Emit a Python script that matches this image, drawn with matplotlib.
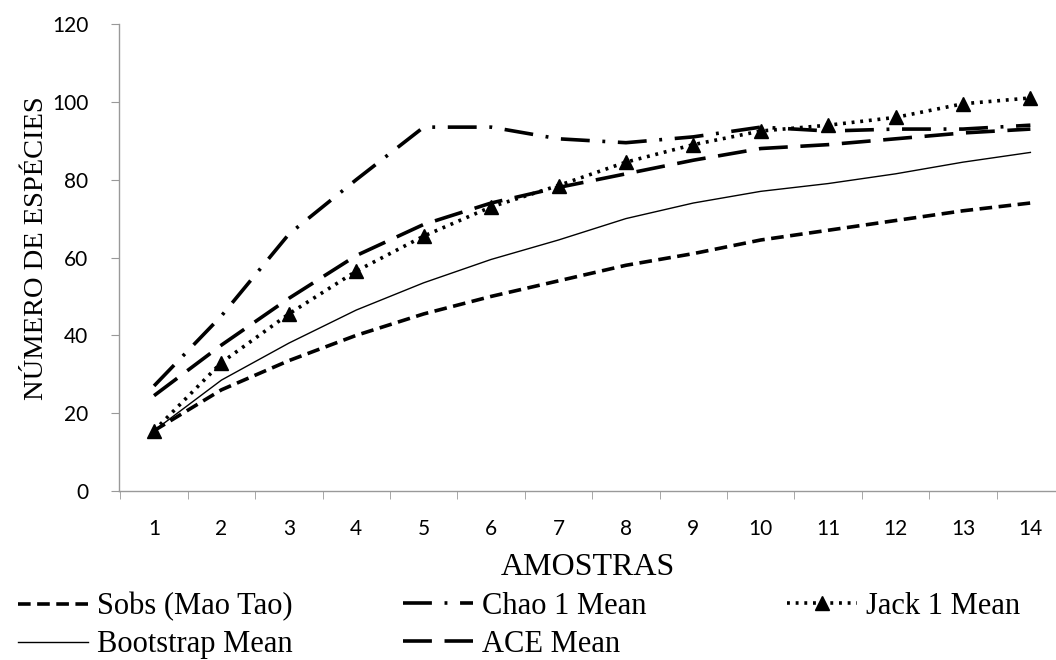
# curvas de acumulacao de especies
import matplotlib.pyplot as plt
import numpy as np

amostras = np.arange(1, 15)
sobs = [15.5, 26, 33.5, 40, 45.5, 50, 54, 58, 61, 64.5, 67, 69.5, 72, 74]
chao1 = [27, 45, 66, 80, 93.5, 93.5, 90.5, 89.5, 91, 93.5, 92.5, 93, 93, 94]
jack1 = [15.5, 33, 45.5, 56.5, 65.5, 73, 78.5, 84.5, 89, 92.5, 94, 96, 99.5, 101]
bootstrap = [15.5, 28.5, 38, 46.5, 53.5, 59.5, 64.5, 70, 74, 77, 79, 81.5, 84.5, 87]
ace = [24.5, 37.5, 49.5, 60.5, 68.5, 74, 78, 81.5, 85, 88, 89, 90.5, 92, 93]

serif = 'Liberation Serif'
tickfont = 'Lato'

fig = plt.figure(figsize=(10.56, 6.6), dpi=100)
ax = fig.add_axes([119/1056, 169/660, 1 - 119/1056, 467/660])

l1, = ax.plot(amostras, sobs, color='black', lw=2.6, linestyle=(0, (3.5, 1.8)), label='Sobs (Mao Tao)')
l2, = ax.plot(amostras, chao1, color='black', lw=2.6, linestyle=(0, (8, 3.5, 0.8, 3.5)), label='Chao 1 Mean')
l3, = ax.plot(amostras, jack1, color='black', lw=2.6, linestyle=(0, (0.8, 1.6)),
              marker='^', markersize=10, label='Jack 1 Mean')
l4, = ax.plot(amostras, bootstrap, color='black', lw=1.0, label='Bootstrap Mean')
l5, = ax.plot(amostras, ace, color='black', lw=2.6, linestyle=(0, (8, 3.5)), label='ACE Mean')

ax.set_xlim(0.48, 14.38)
ax.set_ylim(0, 120)
ax.set_yticks(np.arange(0, 121, 20))
ax.set_xticks(amostras)
ax.set_xticks(np.arange(0.5, 14.5, 1), minor=True)
ax.tick_params(axis='x', which='major', length=0, pad=20)
ax.tick_params(axis='x', which='minor', length=6, color='#999999', direction='out')
ax.tick_params(axis='y', length=6, color='#999999', direction='out', pad=16)
for lab in ax.get_xticklabels() + ax.get_yticklabels():
    lab.set_fontfamily(tickfont)
    lab.set_fontsize(15)
for s in ['top', 'right']:
    ax.spines[s].set_visible(False)
for s in ['left', 'bottom']:
    ax.spines[s].set_color('#999999')
    ax.spines[s].set_linewidth(1.0)

ax.set_xlabel('AMOSTRAS', fontfamily=serif, fontsize=23, labelpad=10)
ax.set_ylabel('NÚMERO DE ESPÉCIES', fontfamily=serif, fontsize=20.5)
ax.yaxis.set_label_coords(-0.075, 0.52)

# legenda em tres colunas (como no Excel)
cols = [([l1, l4], 18), ([l2, l5], 403), ([l3], 787)]
for handles, xpx in cols:
    fig.legend(handles=handles, loc='upper left', bbox_to_anchor=(xpx/1056, 1 - 592/660),
               frameon=False, prop={'family': serif, 'size': 22}, handlelength=2.3,
               handletextpad=0.27, labelspacing=0.3, borderpad=0, borderaxespad=0)

fig.savefig('out.png', dpi=100)
